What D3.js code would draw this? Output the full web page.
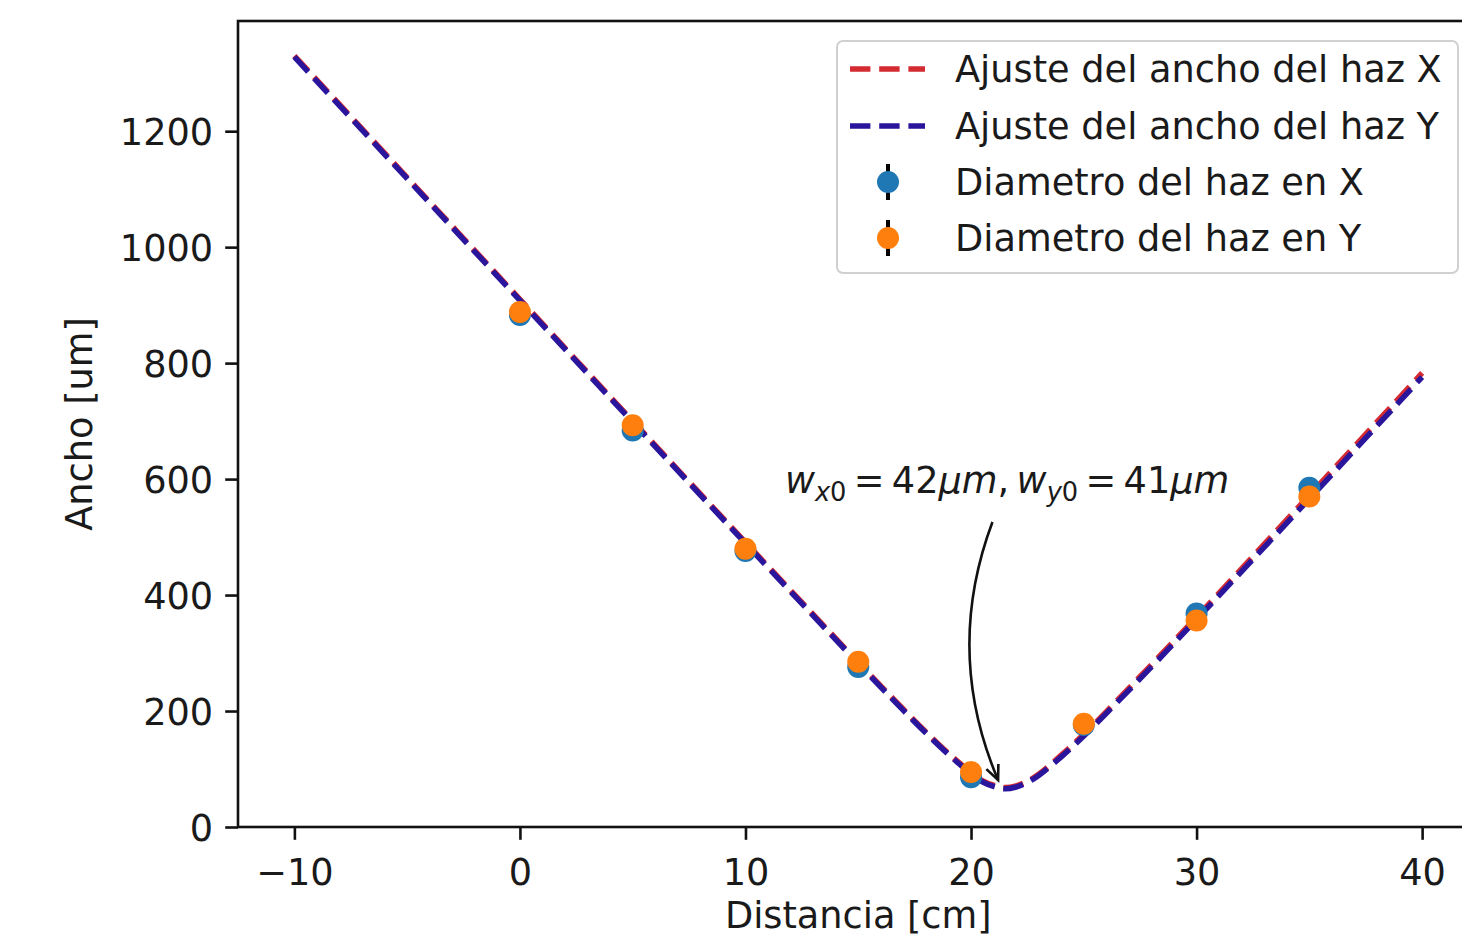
<!DOCTYPE html>
<html>
<head>
<meta charset="utf-8">
<script src="https://cdn.jsdelivr.net/npm/d3@7"></script>
<style>
  html, body { margin: 0; padding: 0; background: #fff; }
  text { font-family: "DejaVu Sans", sans-serif; fill: #1a1a1a; }
</style>
</head>
<body>
<svg id="chart" width="1462" height="936"></svg>
<script>
// ---- data ----
const distances = [0, 5, 10, 15, 20, 25, 30, 35];            // cm
const diamX = [883, 684, 476, 276, 86, 176, 368, 585];       // um
const diamY = [888, 693, 480, 285, 95, 178, 356, 570];       // um
const errX = [10, 10, 10, 10, 10, 10, 10, 10];
const errY = [10, 10, 10, 10, 10, 10, 10, 10];

const fitZ  = [-10, -5, 0, 5, 10, 15, 17, 18, 19, 20, 20.5, 21, 21.5, 22, 22.5, 23, 24, 25, 26, 28, 30, 35, 40];
const fitX  = [1330, 1120, 910, 700, 491, 284, 203, 164, 127, 94, 80, 72, 68, 71, 79, 91, 124, 160, 199, 280, 362, 572, 783];
const fitY  = [1328, 1118, 908, 698, 489, 282, 201, 162, 125, 92, 78, 70, 66, 69, 77, 89, 121, 157, 196, 276, 358, 566, 776];

const xTicks = [-10, 0, 10, 20, 30, 40];
const yTicks = [0, 200, 400, 600, 800, 1000, 1200];

const legendLabels = ["Ajuste del ancho del haz X", "Ajuste del ancho del haz Y",
                      "Diametro del haz en X", "Diametro del haz en Y"];
const annotArrowEnd = [21.2, 81];
const annotArrowStart = [20.95, 526];
const annotTextPos = [21.6, 576];

(function () {
// ---- layout ----
const svg = d3.select("#chart");
svg.append("rect").attr("width", 1462).attr("height", 936).attr("fill", "#fff");

const pL = 238, pR = 1478.5, pT = 21, pB = 827;
const x = d3.scaleLinear().domain([-12.5, 42.5]).range([pL, pR]);
const y = d3.scaleLinear().domain([0, 1390]).range([pB, pT]);

const FS = 36.7;
const red = "#d42a32", blue = "#2a169c", cBlue = "#1f77b4", cOrange = "#ff7f0e";

// fit lines
const line = d3.line().x((d) => x(d[0])).y((d) => y(d[1])).curve(d3.curveCatmullRom.alpha(0.5));
const dash = "20.4,8.8";
svg.append("path").datum(fitZ.map((z, i) => [z, fitX[i]]))
  .attr("d", line).attr("fill", "none").attr("stroke", red)
  .attr("stroke-width", 5.5).attr("stroke-dasharray", dash);
svg.append("path").datum(fitZ.map((z, i) => [z, fitY[i]]))
  .attr("d", line).attr("fill", "none").attr("stroke", blue)
  .attr("stroke-width", 5.5).attr("stroke-dasharray", dash);

// error bars + markers
function series(vals, errs, color) {
  const g = svg.append("g");
  g.selectAll("line").data(distances).join("line")
    .attr("x1", (d) => x(d)).attr("x2", (d) => x(d))
    .attr("y1", (d, i) => y(vals[i] - errs[i])).attr("y2", (d, i) => y(vals[i] + errs[i]))
    .attr("stroke", "#000").attr("stroke-width", 4);
  g.selectAll("circle").data(distances).join("circle")
    .attr("cx", (d) => x(d)).attr("cy", (d, i) => y(vals[i]))
    .attr("r", 11).attr("fill", color);
}
series(diamX, errX, cBlue);
series(diamY, errY, cOrange);

// axes
const axisColor = "#111";
const xAxis = svg.append("g").attr("transform", `translate(0,${pB})`)
  .call(d3.axisBottom(x).tickValues(xTicks).tickSize(12.8).tickPadding(10).tickFormat(d3.format("d")));
const yAxis = svg.append("g").attr("transform", `translate(${pL},0)`)
  .call(d3.axisLeft(y).tickValues(yTicks).tickSize(12.8).tickPadding(12).tickFormat(d3.format("d")));
[xAxis, yAxis].forEach((a) => {
  a.select(".domain").remove();
  a.selectAll(".tick line").attr("stroke", axisColor).attr("stroke-width", 2.6);
  a.selectAll(".tick text").attr("font-size", FS).attr("font-family", "DejaVu Sans").attr("fill", "#1a1a1a");
});
xAxis.selectAll(".tick text").attr("dy", "0.95em");
yAxis.selectAll(".tick text").attr("dy", "0.36em");

// spines
svg.append("rect").attr("x", pL).attr("y", pT).attr("width", pR - pL).attr("height", pB - pT)
  .attr("fill", "none").attr("stroke", axisColor).attr("stroke-width", 2.6);

// axis labels
svg.append("text").attr("x", (pL + pR) / 2).attr("y", 928).attr("text-anchor", "middle")
  .attr("font-size", FS).text("Distancia [cm]");
svg.append("text").attr("transform", `translate(92,${(pT + pB) / 2}) rotate(-90)`)
  .attr("text-anchor", "middle").attr("font-size", FS).text("Ancho [um]");

// annotation arrow
const sx = x(annotArrowStart[0]), sy = y(annotArrowStart[1]);
const ex = x(annotArrowEnd[0]), ey = y(annotArrowEnd[1]);
const rad = 0.2;
const mx = (sx + ex) / 2, my = (sy + ey) / 2;
const qx = mx - rad * (ey - sy), qy = my + rad * (ex - sx);
svg.append("path").attr("d", `M${sx},${sy} Q${qx},${qy} ${ex},${ey}`)
  .attr("fill", "none").attr("stroke", "#111").attr("stroke-width", 2.6);
const ang = Math.atan2(ey - qy, ex - qx);
const hl = 16, ha = 0.42;
svg.append("path")
  .attr("d", `M${ex - hl * Math.cos(ang - ha)},${ey - hl * Math.sin(ang - ha)} L${ex},${ey} L${ex - hl * Math.cos(ang + ha)},${ey - hl * Math.sin(ang + ha)}`)
  .attr("fill", "none").attr("stroke", "#111").attr("stroke-width", 2.6);

// annotation text (mathtext-like)
const at = svg.append("text").attr("x", x(annotTextPos[0])).attr("y", y(annotTextPos[1]))
  .attr("text-anchor", "middle").attr("font-size", FS);
const parts = [
  ["w", "italic", 0, 1], ["x", "italic", 8, 0.7], ["0", "normal", 0, 0.7],
  ["\u2009=\u200942", "normal", -8, 1], ["\u03bcm", "italic", 0, 1], [",\u2009", "normal", 0, 1],
  ["w", "italic", 0, 1], ["y", "italic", 8, 0.7], ["0", "normal", 0, 0.7],
  ["\u2009=\u200941", "normal", -8, 1], ["\u03bcm", "italic", 0, 1]
];
parts.forEach((p) => {
  at.append("tspan").attr("font-style", p[1]).attr("dy", p[2]).attr("font-size", FS * p[3]).text(p[0]);
});

// legend
const lg = svg.append("g");
lg.append("rect").attr("x", 837).attr("y", 41).attr("width", 621).attr("height", 232)
  .attr("rx", 6).attr("fill", "#fff").attr("fill-opacity", 0.8)
  .attr("stroke", "#d0d0d0").attr("stroke-width", 2);
const rowY = [69, 126, 182, 238];
legendLabels.forEach((lab, i) => {
  const cyR = rowY[i];
  if (i < 2) {
    lg.append("line").attr("x1", 850).attr("x2", 925).attr("y1", cyR).attr("y2", cyR)
      .attr("stroke", i === 0 ? red : blue).attr("stroke-width", 5.5).attr("stroke-dasharray", dash);
  } else {
    lg.append("line").attr("x1", 888).attr("x2", 888).attr("y1", cyR - 18).attr("y2", cyR + 18)
      .attr("stroke", "#000").attr("stroke-width", 4);
    lg.append("circle").attr("cx", 888).attr("cy", cyR).attr("r", 11)
      .attr("fill", i === 2 ? cBlue : cOrange);
  }
  lg.append("text").attr("x", 955).attr("y", cyR).attr("dy", "0.36em")
    .attr("font-size", FS).text(lab);
});
})();
</script>
</body>
</html>
